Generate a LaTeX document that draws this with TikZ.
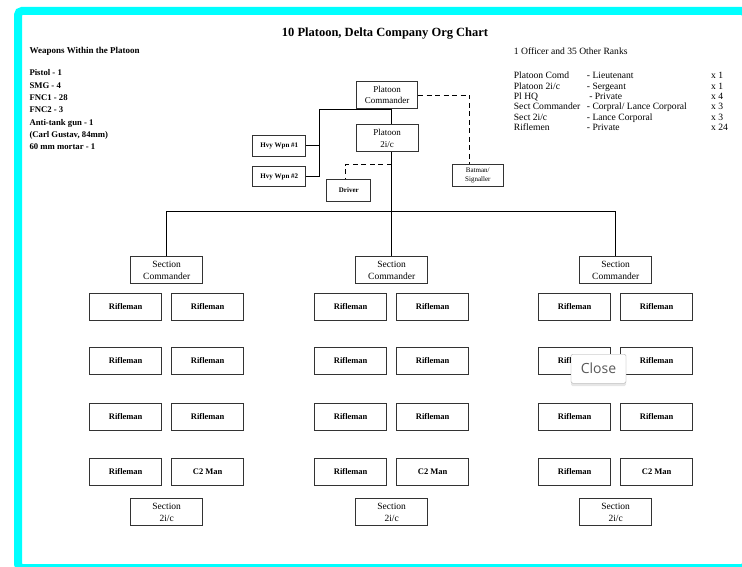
\documentclass[tikz,border=0pt]{standalone}
\usepackage{fontspec}
\setmainfont{Liberation Serif}
\newfontfamily\closefont{Open Sans}
\usetikzlibrary{shadows}
\definecolor{cadre}{RGB}{0,255,255}
\newcommand{\fs}[1]{\fontsize{#1}{#1}\selectfont}
\tikzset{
  boite/.style={draw=black!80, fill=white, line width=0.9pt, inner sep=1pt, align=center, minimum width=72pt, minimum height=27pt, font=\fs{9.5}\linespread{1.2}\selectfont},
  fus/.style={boite, font=\bfseries\fs{8.5}},
  petite/.style={boite, font=\bfseries\fs{7}, minimum height=21pt},
  lien/.style={line width=0.9pt},
  tirets/.style={lien, dash pattern=on 5pt off 3.5pt}
}
\begin{document}
\begin{tikzpicture}[x=1pt,y=-1pt] % une unite = un pixel de l'image
\useasboundingbox (0,0) rectangle (742,567);
\clip (0,0) rectangle (742,567);
\draw[cadre, line width=8pt, rounded corners=4pt] (18,11) rectangle (746,568);

\node[anchor=base, font=\bfseries\fs{12.5}] (titre) at (385,37) {10 Platoon, Delta Company Org Chart};

\node[anchor=base west, font=\bfseries\fs{9}, inner sep=0pt] (armes) at (29.3,53.3) {Weapons Within the Platoon};
\foreach \t [count=\k] in {Pistol - 1, SMG - 4, FNC1 - 28, FNC2 - 3, Anti-tank gun - 1, {(Carl Gustav, 84mm)}, 60 mm mortar - 1}
  \node[anchor=base west, font=\bfseries\fs{8.7}, inner sep=0pt] (arme\k) at (29.3,63.7+12.3*\k) {\t};

\node[anchor=base west, font=\fs{9.6}, inner sep=0pt] (effectif) at (513.7,55) {1 Officer and 35 Other Ranks};
\foreach \a/\b/\c [count=\k] in {{Platoon Comd}/{- Lieutenant}/{x 1}, {Platoon 2i/c}/{- Sergeant}/{x 1}, {Pl HQ}/{\ - Private}/{x 4}, {Sect Commander}/{- Corpral/ Lance Corporal}/{x 3}, {Sect 2i/c}/{- Lance Corporal}/{x 3}, {Riflemen}/{- Private}/{x 24}} {
  \node[anchor=base west, font=\fs{9.6}, inner sep=0pt] (grade\k) at (513.7,68.7+10.3*\k) {\a};
  \node[anchor=base west, font=\fs{9.6}, inner sep=0pt] (rang\k) at (586.7,68.7+10.3*\k) {\b};
  \node[anchor=base west, font=\fs{9.6}, inner sep=0pt] (nb\k) at (711,68.7+10.3*\k) {\c};
}

% peloton
\node[boite, minimum width=61pt, font=\fs{9}\linespread{1.25}\selectfont] (pc) at (387.2,95) {Platoon\\Commander};
\node[boite, minimum width=62pt, font=\fs{9}\linespread{1.25}\selectfont] (p2ic) at (387,138.3) {Platoon\\2i/c};
\node[petite, minimum width=53pt] (hw1) at (279.3,145.5) {Hvy Wpn \#1};
\node[petite, minimum width=53pt, minimum height=20pt] (hw2) at (279.3,176.7) {Hvy Wpn \#2};
\node[petite, minimum width=44pt, minimum height=22pt] (drv) at (348.8,190) {Driver};
\node[petite, minimum width=51pt, minimum height=22pt, font=\fs{7}\linespread{1.3}\selectfont] (bat) at (477.8,175.8) {Batman/\\Signaller};

\coordinate (bar) at (391.7,211.3);
\coordinate (hw) at (319,109.3);
\coordinate (dj) at (391.7,164.3);
\draw[lien] (pc.south -| bar) -- (p2ic.north -| bar) (p2ic.south -| bar) -- (bar);
\draw[lien] (hw -| bar) -- (hw) |- (hw2.east) (hw1.east) -- (hw1.east -| hw);
\draw[tirets] (pc.east) -| ([xshift=-8pt]bat.north);
\draw[tirets] (dj) -| ([xshift=-3pt]drv.north);

% sections
\foreach \i/\x in {1/166.7,2/391.7,3/615.7} {
  \node[boite] (sc\i) at (\x,270.3) {Section\\Commander};
  \foreach \j/\y/\t in {1/306.7/Rifleman,2/360.8/Rifleman,3/417/Rifleman,4/472/C2 Man} {
    \node[fus] (rg\i\j) at (\x-41,\y) {Rifleman};
    \node[fus] (rd\i\j) at (\x+41,\y) {\t};
  }
  \node[boite] (s2ic\i) at (\x,512.3) {Section\\2i/c};
}
\draw[lien] (sc1.north) |- (bar) -| (sc3.north) (bar) -- (sc2.north);

\node[draw=black!35, fill=white, rounded corners=1.5pt, minimum width=55pt, minimum height=29pt, text=black!65, font=\closefont\fs{14}, drop shadow={opacity=0.2, shadow xshift=0pt, shadow yshift=-3pt}] (fermer) at (598.5,368.7) {Close};
\end{tikzpicture}
\end{document}
